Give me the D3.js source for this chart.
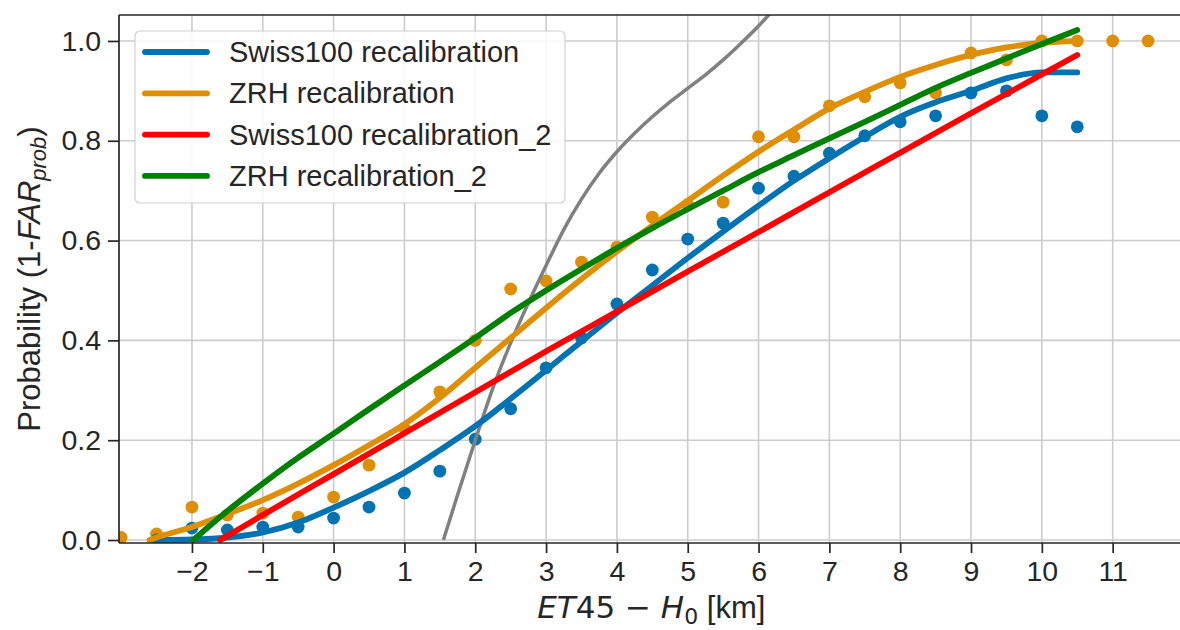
<!DOCTYPE html>
<html><head><meta charset="utf-8">
<script src="https://cdn.jsdelivr.net/npm/d3@7"></script>
<style>body{margin:0;background:#fff}svg{display:block}</style>
</head><body>
<svg id="c" width="1180" height="630"></svg>
<script>
// ---- data ----
const xTicks = [-2,-1,0,1,2,3,4,5,6,7,8,9,10,11];
const yTicks = [0,0.2,0.4,0.6,0.8,1.0];
const seriesNames = ["Swiss100 recalibration","ZRH recalibration","Swiss100 recalibration_2","ZRH recalibration_2"];
const seriesColors = ["#0173b2","#de8f05","#ff0000","#008000"];

const swissDotsX = [-2.5,-2,-1.5,-1,-0.5,0,0.5,1,1.5,2,2.5,3,3.5,4,4.5,5,5.5,6,6.5,7,7.5,8,8.5,9,9.5,10,10.5];
const swissDotsY = [0.0,0.024,0.02,0.026,0.026,0.044,0.066,0.094,0.138,0.202,0.263,0.345,0.405,0.473,0.541,0.603,0.635,0.705,0.729,0.775,0.81,0.838,0.85,0.896,0.90,0.85,0.828];
const zrhDotsX = [-3,-2.5,-2,-1.5,-1,-0.5,0,0.5,1,1.5,2,2.5,3,3.5,4,4.5,5,5.5,6,6.5,7,7.5,8,8.5,9,9.5,10,10.5,11,11.5];
const zrhDotsY = [0.005,0.012,0.066,0.05,0.054,0.046,0.086,0.15,0.224,0.297,0.40,0.503,0.519,0.557,0.587,0.647,0.672,0.677,0.808,0.808,0.87,0.888,0.916,0.896,0.976,0.962,1.0,1.0,1.0,1.0];

const swissFitX = [-2.5,-2,-1.5,-1,-0.5,0,0.5,1,1.5,2,2.5,3,3.5,4,4.5,5,5.5,6,6.5,7,7.5,8,8.5,9,9.5,10,10.5];
const swissFitY = [0.0,0.001,0.005,0.015,0.035,0.065,0.098,0.135,0.18,0.228,0.283,0.34,0.398,0.455,0.51,0.565,0.618,0.67,0.72,0.765,0.808,0.848,0.877,0.90,0.925,0.937,0.937];
const zrhFitX = [-2.6,-2.5,-2,-1.5,-1,-0.5,0,0.5,1,1.5,2,2.5,3,3.5,4,4.5,5,5.5,6,6.5,7,7.5,8,8.5,9,9.5,10,10.5];
const zrhFitY = [0.0,0.005,0.026,0.052,0.08,0.113,0.15,0.19,0.232,0.285,0.345,0.405,0.465,0.523,0.578,0.63,0.68,0.73,0.778,0.822,0.865,0.898,0.928,0.952,0.972,0.987,0.996,1.0];
const swiss2FitX = [-1.6,-1,0,1,2,3,4,5,6,7,8,9,10,10.5];
const swiss2FitY = [0.0,0.05,0.132,0.214,0.296,0.378,0.458,0.538,0.617,0.697,0.776,0.855,0.933,0.972];
const zrh2FitX = [-1.98,-1.5,-1,-0.5,0,0.5,1,1.5,2,2.5,3,3.5,4,4.5,5,5.5,6,6.5,7,7.5,8,8.5,9,9.5,10,10.5];
const zrh2FitY = [0.0,0.058,0.113,0.165,0.213,0.262,0.31,0.357,0.405,0.455,0.5,0.543,0.585,0.625,0.663,0.70,0.737,0.771,0.805,0.838,0.872,0.906,0.936,0.965,0.994,1.022];
const grayX = [1.55,1.75,2,2.25,2.5,2.75,3,3.25,3.5,3.75,4,4.25,4.5,4.75,5,5.25,5.5,5.75,6,6.25,6.5];
const grayY = [0.0,0.09,0.2,0.305,0.395,0.475,0.55,0.622,0.683,0.735,0.778,0.815,0.848,0.878,0.905,0.932,0.962,0.995,1.03,1.068,1.1];

// ---- layout ----
const L = 119, R = 1183.5, T = 15, B = 543;
const x = d3.scaleLinear().domain([-3.03, 12]).range([L, R]);
const y = d3.scaleLinear().domain([-0.006, 1.052]).range([B, T]);
const svg = d3.select("#c");
const font = "'Liberation Sans', Arial, sans-serif";

svg.append("defs").append("clipPath").attr("id","clip")
  .append("rect").attr("x",L).attr("y",T).attr("width",R-L).attr("height",B-T);

// grid
const grid = svg.append("g");
grid.selectAll("line.vx").data(xTicks).join("line")
  .attr("x1",d=>x(d)).attr("x2",d=>x(d)).attr("y1",T).attr("y2",B)
  .attr("stroke","#cccccc").attr("stroke-width",1.6);
grid.selectAll("line.hy").data(yTicks).join("line").attr("class","hy")
  .attr("x1",L).attr("x2",R).attr("y1",d=>y(d)).attr("y2",d=>y(d))
  .attr("stroke","#cccccc").attr("stroke-width",1.6);

const plot = svg.append("g").attr("clip-path","url(#clip)");

// dots
const swissDots = swissDotsX.map((v,i)=>[v,swissDotsY[i]]);
const zrhDots = zrhDotsX.map((v,i)=>[v,zrhDotsY[i]]);
plot.selectAll("circle.z").data(zrhDots).join("circle").attr("class","z")
  .attr("cx",d=>x(d[0])).attr("cy",d=>y(d[1])).attr("r",6.4).attr("fill",seriesColors[1]);
plot.selectAll("circle.s").data(swissDots).join("circle").attr("class","s")
  .attr("cx",d=>x(d[0])).attr("cy",d=>y(d[1])).attr("r",6.4).attr("fill",seriesColors[0]);

// lines
const line = d3.line().x(d=>x(d[0])).y(d=>y(d[1])).curve(d3.curveMonotoneX);
const fits = [
  [swissFitX, swissFitY], [zrhFitX, zrhFitY], [swiss2FitX, swiss2FitY], [zrh2FitX, zrh2FitY]
];
plot.append("path").datum(grayX.map((v,i)=>[v,grayY[i]])).attr("d",line)
  .attr("fill","none").attr("stroke","#808080").attr("stroke-width",3.5);
fits.forEach((f,k)=>{
  plot.append("path").datum(f[0].map((v,i)=>[v,f[1][i]])).attr("d",line)
    .attr("fill","none").attr("stroke",seriesColors[k]).attr("stroke-width",5.8)
    .attr("stroke-linecap","round");
});

// spines
svg.append("line").attr("x1",L).attr("x2",L).attr("y1",T).attr("y2",B).attr("stroke","#262626").attr("stroke-width",1.7);
svg.append("line").attr("x1",L).attr("x2",R).attr("y1",B).attr("y2",B).attr("stroke","#262626").attr("stroke-width",1.7);
svg.append("line").attr("x1",L).attr("x2",R).attr("y1",T).attr("y2",T).attr("stroke","#262626").attr("stroke-width",1.7);

// axes
const fmtX = d => (d<0 ? "\u2212"+Math.abs(d) : String(d));
const xAxis = d3.axisBottom(x).tickValues(xTicks).tickFormat(fmtX).tickSize(10).tickPadding(8);
const gx = svg.append("g").attr("transform",`translate(0,${B})`).call(xAxis);
const yAxis = d3.axisLeft(y).tickValues(yTicks).tickFormat(d3.format(".1f")).tickSize(11).tickPadding(7);
const gy = svg.append("g").attr("transform",`translate(${L},0)`).call(yAxis);
[gx,gy].forEach(g=>{
  g.select(".domain").remove();
  g.selectAll(".tick line").attr("stroke","#262626").attr("stroke-width",1.7);
  g.selectAll(".tick text").attr("fill","#262626").style("font-family",font).style("font-size","28.5px");
});

// axis labels
const xl = svg.append("text").attr("x",(L+R)/2).attr("y",618).attr("text-anchor","middle")
  .attr("fill","#262626").style("font-family",font).style("font-size","31px");
xl.append("tspan").style("font-family","'DejaVu Sans'").style("font-style","italic").text("ET");
xl.append("tspan").style("font-family","'DejaVu Sans'").text("45 \u2212 ");
xl.append("tspan").style("font-family","'DejaVu Sans'").style("font-style","italic").text("H");
xl.append("tspan").style("font-family","'DejaVu Sans'").style("font-size","22px").attr("dy",6).text("0");
xl.append("tspan").attr("dy",-6).text(" [km]");

const yl = svg.append("text").attr("transform",`translate(40,${(T+B)/2}) rotate(-90)`).attr("text-anchor","middle")
  .attr("fill","#262626").style("font-family",font).style("font-size","31px");
yl.append("tspan").text("Probability (1-");
yl.append("tspan").style("font-style","italic").text("FAR");
yl.append("tspan").style("font-style","italic").style("font-size","22px").attr("dy",6).text("prob");
yl.append("tspan").attr("dy",-6).text(")");

// legend
const lg = svg.append("g");
lg.append("rect").attr("x",135).attr("y",31).attr("width",430).attr("height",172).attr("rx",5)
  .attr("fill","#ffffff").attr("fill-opacity",0.85).attr("stroke","#d0d0d0").attr("stroke-width",1.2);
seriesNames.forEach((n,i)=>{
  const yy = 52 + i*41.3;
  lg.append("line").attr("x1",145).attr("x2",207).attr("y1",yy).attr("y2",yy)
    .attr("stroke",seriesColors[i]).attr("stroke-width",5.8).attr("stroke-linecap","round");
  lg.append("text").attr("x",229).attr("y",yy+10).attr("fill","#262626")
    .style("font-family",font).style("font-size","29px").text(n);
});
</script>
</body></html>
